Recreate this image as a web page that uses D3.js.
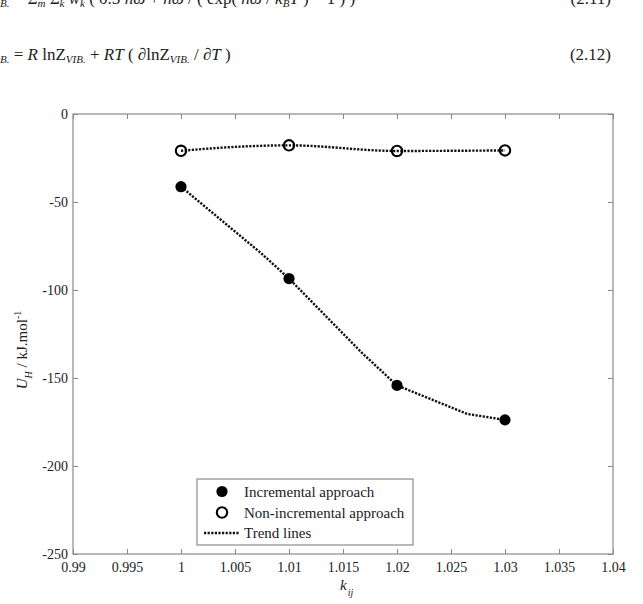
<!DOCTYPE html>
<html>
<head>
<meta charset="utf-8">
<script src="https://cdn.jsdelivr.net/npm/d3@7.9.0/dist/d3.min.js"></script>
<style>
  body { margin: 0; background: #fff; }
  svg { display: block; font-family: "Liberation Serif", "Times New Roman", serif; }
  .axis path, .axis line { stroke: #8a8a8a; }
  .axis text { fill: #222; font-size: 14px; font-family: "Liberation Serif", serif; }
</style>
</head>
<body>
<svg id="chart" width="643" height="604"></svg>
<script>
// values
const kij = [1.00, 1.01, 1.02, 1.03];
const incremental = [-41.3, -93.5, -154.2, -173.8];
const nonIncremental = [-20.9, -17.8, -21.0, -20.7];

// trend lines (drawn as in the figure, with their small kinks)
const incTrendX = [1.00, 1.0074, 1.01, 1.0168, 1.02, 1.0265, 1.03];
const incTrendY = [-41.3, -79, -93.5, -136, -154.2, -170.4, -173.8];
const nonTrendX = [1.00, 1.005, 1.01, 1.02, 1.03];
const nonTrendY = [-20.9, -18.7, -17.8, -21.0, -20.7];

const xTicks = [0.99, 0.995, 1, 1.005, 1.01, 1.015, 1.02, 1.025, 1.03, 1.035, 1.04];
const yTicks = [0, -50, -100, -150, -200, -250];
const legendLabels = ["Incremental approach", "Non-incremental approach", "Trend lines"];

const svg = d3.select("#chart");
const margin = { left: 73, right: 30, top: 114, bottom: 50 };
const W = 643, H = 604;

const x = d3.scaleLinear().domain([0.99, 1.04]).range([margin.left, W - margin.right]);
const y = d3.scaleLinear().domain([-250, 0]).range([H - margin.bottom, margin.top]);

// equations above the figure (cut off by the page edge, as in the source)
const eq1 = svg.append("text").attr("x", 0).attr("y", 4).attr("font-size", 17).attr("fill", "#222");
eq1.append("tspan").attr("font-style", "italic").attr("font-size", 11).attr("dy", 3).text("B.");
eq1.append("tspan").attr("dy", -3).text(" = Σ");
eq1.append("tspan").attr("font-style", "italic").attr("font-size", 11).attr("dy", 3).text("m");
eq1.append("tspan").attr("dy", -3).text(" Σ");
eq1.append("tspan").attr("font-style", "italic").attr("font-size", 11).attr("dy", 3).text("k");
eq1.append("tspan").attr("dy", -3).attr("font-style", "italic").text(" w");
eq1.append("tspan").attr("font-style", "italic").attr("font-size", 11).attr("dy", 3).text("k");
eq1.append("tspan").attr("dy", -3).text(" ( 0.5 ");
eq1.append("tspan").attr("font-style", "italic").text("hω");
eq1.append("tspan").text(" + ");
eq1.append("tspan").attr("font-style", "italic").text("hω");
eq1.append("tspan").text(" / ( exp( ");
eq1.append("tspan").attr("font-style", "italic").text("hω");
eq1.append("tspan").text(" / ");
eq1.append("tspan").attr("font-style", "italic").text("k");
eq1.append("tspan").attr("font-style", "italic").attr("font-size", 11).attr("dy", 3).text("B");
eq1.append("tspan").attr("font-style", "italic").attr("dy", -3).text("T");
eq1.append("tspan").text(" ) − 1 ) )");
svg.append("text").attr("x", 611).attr("y", 4).attr("text-anchor", "end")
  .attr("font-size", 17).attr("fill", "#222").text("(2.11)");

const eq2 = svg.append("text").attr("x", 0).attr("y", 60).attr("font-size", 17).attr("fill", "#222");
eq2.append("tspan").attr("font-style", "italic").attr("font-size", 11).attr("dy", 3).text("B.");
eq2.append("tspan").attr("dy", -3).text(" = ");
eq2.append("tspan").attr("font-style", "italic").text("R");
eq2.append("tspan").text(" lnZ");
eq2.append("tspan").attr("font-style", "italic").attr("font-size", 11).attr("dy", 3).text("VIB.");
eq2.append("tspan").attr("dy", -3).text(" + ");
eq2.append("tspan").attr("font-style", "italic").text("RT");
eq2.append("tspan").text(" ( ∂lnZ");
eq2.append("tspan").attr("font-style", "italic").attr("font-size", 11).attr("dy", 3).text("VIB.");
eq2.append("tspan").attr("dy", -3).text(" / ∂");
eq2.append("tspan").attr("font-style", "italic").text("T");
eq2.append("tspan").text(" )");
svg.append("text").attr("x", 611).attr("y", 60).attr("text-anchor", "end")
  .attr("font-size", 17).attr("fill", "#222").text("(2.12)");

// plot box
svg.append("rect")
  .attr("x", x(0.99)).attr("y", y(0))
  .attr("width", x(1.04) - x(0.99)).attr("height", y(-250) - y(0))
  .attr("fill", "#fff").attr("stroke", "#8a8a8a").attr("stroke-width", 1.2);

// plain hyphen minus like the original
const fmt = d => String(+d.toFixed(3));

svg.append("g").attr("class", "axis")
  .attr("transform", `translate(0,${y(-250)})`)
  .call(d3.axisBottom(x).tickValues(xTicks).tickFormat(fmt).tickSizeInner(-5).tickSizeOuter(0).tickPadding(8));
svg.append("g").attr("class", "axis")
  .attr("transform", `translate(0,${y(0)})`)
  .call(d3.axisTop(x).tickValues(xTicks).tickFormat("").tickSizeInner(-5).tickSizeOuter(0));
svg.append("g").attr("class", "axis")
  .attr("transform", `translate(${x(0.99)},0)`)
  .call(d3.axisLeft(y).tickValues(yTicks).tickFormat(fmt).tickSizeInner(-5).tickSizeOuter(0).tickPadding(5));
svg.append("g").attr("class", "axis")
  .attr("transform", `translate(${x(1.04)},0)`)
  .call(d3.axisRight(y).tickValues(yTicks).tickFormat("").tickSizeInner(-5).tickSizeOuter(0));
svg.selectAll(".axis .domain").remove();

// trend lines
const line = d3.line().x(d => x(d[0])).y(d => y(d[1]));
const dash = "2.2,1.4";
svg.append("path").datum(d3.zip(incTrendX, incTrendY))
  .attr("d", line).attr("fill", "none").attr("stroke", "#111")
  .attr("stroke-width", 2.4).attr("stroke-dasharray", dash);
svg.append("path").datum(d3.zip(nonTrendX, nonTrendY))
  .attr("d", line.curve(d3.curveMonotoneX)).attr("fill", "none").attr("stroke", "#111")
  .attr("stroke-width", 2.4).attr("stroke-dasharray", dash);

// markers
svg.append("g").selectAll("circle").data(d3.zip(kij, incremental)).join("circle")
  .attr("cx", d => x(d[0])).attr("cy", d => y(d[1])).attr("r", 5.6).attr("fill", "#000");
svg.append("g").selectAll("circle").data(d3.zip(kij, nonIncremental)).join("circle")
  .attr("cx", d => x(d[0])).attr("cy", d => y(d[1])).attr("r", 5.2)
  .attr("fill", "none").attr("stroke", "#000").attr("stroke-width", 2.1);

// axis titles
const xl = svg.append("text").attr("x", x(1.015) - 3).attr("y", 590)
  .attr("font-size", 15).attr("fill", "#222");
xl.append("tspan").attr("font-style", "italic").text("k");
xl.append("tspan").attr("font-style", "italic").attr("font-size", 10).attr("dx", 1).attr("dy", 6).text("ij");

const yl = svg.append("text").attr("transform", "translate(27,350) rotate(-90)")
  .attr("text-anchor", "middle").attr("font-size", 15).attr("fill", "#222");
yl.append("tspan").attr("font-style", "italic").text("U");
yl.append("tspan").attr("font-style", "italic").attr("font-size", 10).attr("dy", 5).text("H");
yl.append("tspan").attr("dy", -5).text(" / kJ.mol");
yl.append("tspan").attr("font-size", 10).attr("dy", -6).text("-1");

// legend
const lg = svg.append("g");
lg.append("rect").attr("x", 197).attr("y", 479).attr("width", 216).attr("height", 66)
  .attr("fill", "#fff").attr("stroke", "#8a8a8a").attr("stroke-width", 1.2);
const rows = [491.5, 512.5, 533];
lg.append("circle").attr("cx", 222).attr("cy", rows[0]).attr("r", 5.6).attr("fill", "#000");
lg.append("circle").attr("cx", 222).attr("cy", rows[1]).attr("r", 5.2)
  .attr("fill", "none").attr("stroke", "#000").attr("stroke-width", 2.1);
lg.append("line").attr("x1", 204).attr("x2", 240).attr("y1", rows[2]).attr("y2", rows[2])
  .attr("stroke", "#111").attr("stroke-width", 2.4).attr("stroke-dasharray", dash);
lg.selectAll("text").data(legendLabels).join("text")
  .attr("x", 244).attr("y", (d, i) => rows[i] + 5)
  .attr("font-size", 15).attr("fill", "#222").text(d => d);
</script>
</body>
</html>
